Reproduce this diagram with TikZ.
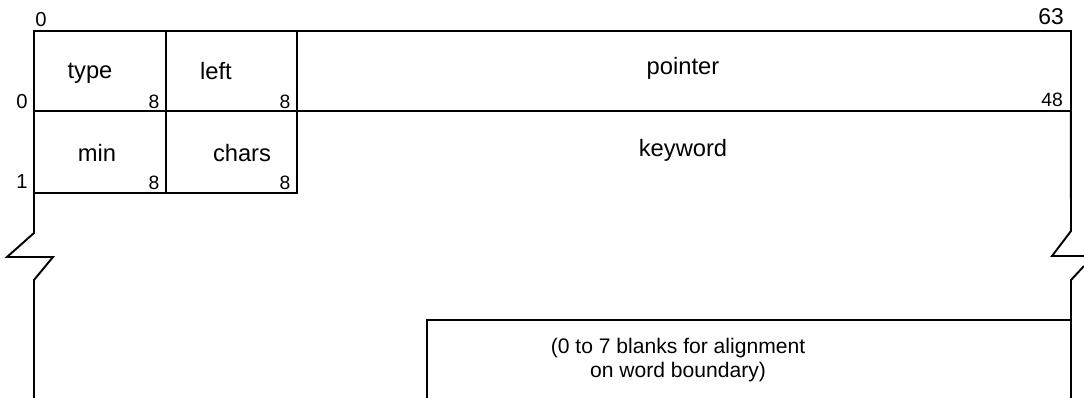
\documentclass[tikz,border=0pt]{standalone}
\usepackage{fontspec}
\setmainfont{Liberation Sans}
\usetikzlibrary{positioning}

\begin{document}
\begin{tikzpicture}[x=0.02cm, y=-0.02cm, line width=1.1pt,
    cell/.style={draw, inner sep=0pt, outer sep=0pt, minimum height=1.6cm},
    lbl/.style={font=\fontsize{13.5}{16}\selectfont, inner sep=0pt},
    bits/.style={font=\fontsize{11}{13}\selectfont, inner sep=0pt},
    idx/.style={font=\fontsize{11.5}{13}\selectfont, inner sep=0pt}]
    \useasboundingbox (0,0) rectangle (1084,398);
    % word 0
    \node [cell, minimum width=2.64cm] (type) at (100,71) {};
    \node [cell, minimum width=2.62cm, right=0pt of type] (left) {};
    \node [cell, minimum width=15.48cm, right=0pt of left] (pointer) {};
    % word 1
    \node [cell, minimum width=2.64cm, minimum height=1.64cm, below=0pt of type] (min) {};
    \node [cell, minimum width=2.62cm, minimum height=1.64cm, right=0pt of min] (chars) {};
    % field names
    \node [lbl] at (90,73) {type};
    \node [lbl] at (216,71) {left};
    \node [lbl] at (683,68) {pointer};
    \node [lbl] at (97,153) {min};
    \node [lbl] at (242,153) {chars};
    \node [lbl] at (683,150) {keyword};
    % field widths
    \node [bits] at (154,102) {8};
    \node [bits] at (285,102) {8};
    \node [bits] at (154,183) {8};
    \node [bits] at (285,183) {8};
    \node [bits] at (1052,100) {48};
    % bit and word numbers
    \node [idx] at (41,20) {0};
    \node [font=\fontsize{13}{15}\selectfont, inner sep=0pt] at (1051,17) {63};
    \node [idx] at (22,102) {0};
    \node [idx] at (22,182) {1};
    % breaks in the outline
    \coordinate (lbreak) at (34,233);
    \coordinate (lresume) at (34,280);
    \coordinate (rbreak) at (1071,231);
    \coordinate (rresume) at (1071,280);
    \draw (min.south west) -- (lbreak) -- (7,257) -- (53,257) -- (lresume) -- (34,398);
    \draw (pointer.south east) -- (rbreak) -- (1052,256) -- (1084,256);
    \draw (1084,266) -- (rresume) -- (1071,398);
    % padding box
    \coordinate (pad) at (427,320);
    \draw (427,398) -- (pad) -- (pad -| rresume);
    \node [font=\fontsize{12}{13.5}\selectfont, align=center, inner sep=0pt] (blanks) at (678,360)
        {(0 to 7 blanks for alignment\\on word boundary)};
\end{tikzpicture}
\end{document}
